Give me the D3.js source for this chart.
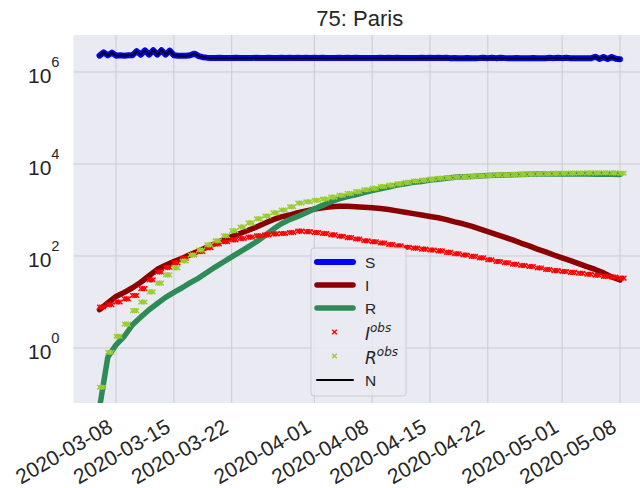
<!DOCTYPE html>
<html>
<head>
<meta charset="utf-8">
<script src="https://cdn.jsdelivr.net/npm/d3@7"></script>
<style>
  body { margin: 0; background: #fff; }
  svg { display: block; font-family: "Liberation Sans", Arial, sans-serif; }
</style>
</head>
<body>
<svg id="chart"></svg>
<script>
// first day of the simulation / observations
const startDate = "2020-03-06";
const tickDates = ["2020-03-08", "2020-03-15", "2020-03-22", "2020-04-01", "2020-04-08",
                   "2020-04-15", "2020-04-22", "2020-05-01", "2020-05-08"];
const yTickExps = [0, 2, 4, 6];

// S and N, sampled every half day (millions)
const sMillions = [2.26, 2.67, 2.30, 2.63, 2.26, 2.32, 2.26, 2.32, 2.32, 2.83,
  2.38, 2.95, 2.38, 2.98, 2.38, 2.98, 2.38, 2.92, 2.32, 2.26,
  2.26, 2.26, 2.32, 2.50, 2.21, 2.10, 2.05, 2.02,
  2.02, 2.03, 2.02, 2.01, 2.02, 2.03, 2.02, 2.02, 2.01, 2.02, 2.03, 2.02, 2.02, 2.03, 2.01, 2.02, 2.04, 2.02, 2.03, 2.01,
  2.04, 2.02, 2.05, 2.02, 2.04, 2.01, 2.03, 2.02, 2.02, 2.01, 2.04, 2.02, 2.05, 2.02, 2.03, 2.01, 2.02, 2.02, 2.01, 2.02,
  2.04, 2.02, 2.05, 2.02, 2.03, 2.01, 2.02, 2.02, 2.01, 2.02, 2.04, 2.01, 2.05, 2.02, 2.04, 2.01, 2.03, 2.00, 2.01, 2.00,
  2.00, 2.01, 2.00, 2.00, 2.01, 2.03, 2.00, 2.04, 2.00, 2.03, 2.01, 2.00, 2.00, 2.01, 2.00, 2.00, 2.00, 2.01, 2.00, 2.00,
  2.00, 2.03, 2.00, 2.04, 2.00, 2.03, 2.00, 2.00, 2.00, 2.00, 2.00, 1.98,
  2.15, 1.92, 2.12, 1.92, 2.12, 1.93, 1.90];
const nMillions = [2.26, 2.67, 2.30, 2.63, 2.26, 2.32, 2.26, 2.32, 2.32, 2.83,
  2.38, 2.95, 2.38, 2.98, 2.38, 2.98, 2.38, 2.92, 2.32, 2.26,
  2.26, 2.26, 2.32, 2.50, 2.21, 2.10, 2.05, 2.02,
  2.02, 2.03, 2.02, 2.01, 2.02, 2.03, 2.02, 2.02, 2.01, 2.02, 2.03, 2.02, 2.02, 2.03, 2.01, 2.02, 2.04, 2.02, 2.03, 2.01,
  2.04, 2.02, 2.05, 2.02, 2.04, 2.01, 2.03, 2.02, 2.02, 2.01, 2.04, 2.02, 2.05, 2.02, 2.03, 2.01, 2.02, 2.02, 2.01, 2.02,
  2.04, 2.02, 2.05, 2.02, 2.03, 2.01, 2.02, 2.02, 2.01, 2.02, 2.04, 2.01, 2.05, 2.02, 2.04, 2.01, 2.03, 2.00, 2.01, 2.00,
  2.00, 2.01, 2.00, 2.00, 2.01, 2.03, 2.00, 2.04, 2.00, 2.03, 2.01, 2.00, 2.00, 2.01, 2.00, 2.00, 2.00, 2.01, 2.00, 2.00,
  2.00, 2.03, 2.00, 2.04, 2.00, 2.03, 2.00, 2.00, 2.00, 2.00, 2.00, 1.98,
  2.15, 1.92, 2.12, 1.92, 2.12, 1.93, 1.90];

// daily values
const iModel = [6.8, 9.5, 13.2, 16.2, 20.4, 26.9, 37.2, 51.3, 63.1, 75.9,
  89.1, 107, 129, 155, 186, 224, 263, 309, 363, 427,
  513, 617, 708, 776, 871, 955, 1047, 1122, 1175, 1202,
  1202, 1175, 1148, 1122, 1072, 1023, 955, 891, 832, 776,
  724, 676, 617, 550, 501, 447, 389, 339, 295, 257,
  224, 191, 166, 141, 123, 105, 91, 79, 68, 59,
  51, 43, 35, 30];
const rModel = [0.05, 0.63, 1.17, 1.8, 3.2, 4.7, 6.8, 9.3, 12.6, 16.2,
  20.4, 26.3, 33.1, 43.7, 57.5, 74.1, 95.5, 123, 158, 204,
  275, 380, 501, 617, 724, 871, 1047, 1259, 1514, 1738,
  1950, 2138, 2399, 2630, 2884, 3162, 3467, 3715, 3981, 4169,
  4467, 4677, 4898, 5129, 5248, 5370, 5495, 5623, 5690, 5754,
  5820, 5888, 5957, 6026, 6030, 6030, 6030, 6020, 6030, 6030,
  6010, 6000, 5980, 5900];
const iObs = [7.8, 8.7, 10.0, 11.7, 13.8, 19.5, 30.2, 44.7, 56.2, 70.8,
  89.1, 107, 126, 151, 182, 204, 224, 240, 257, 275,
  288, 302, 309, 324, 347, 339, 324, 309, 288, 269,
  251, 234, 214, 204, 191, 178, 166, 155, 148, 141,
  135, 129, 120, 112, 105, 98, 91, 83, 76, 71,
  66, 62, 59, 55, 51, 48, 46, 44, 42, 40,
  38, 36, 35, 33];
const rObs = [0.14, 0.81, 1.8, 3.3, 6.5, 10, 16.6, 25.7, 38.9, 55,
  77.6, 105, 135, 174, 214, 275, 355, 427, 525, 646,
  741, 871, 1000, 1175, 1413, 1514, 1622, 1738, 1905, 2089,
  2291, 2512, 2754, 2951, 3236, 3467, 3715, 3981, 4266, 4467,
  4677, 4898, 5012, 5129, 5248, 5370, 5495, 5623, 5754, 5820,
  5888, 5957, 6026, 6095, 6166, 6237, 6310, 6340, 6380, 6400,
  6420, 6440, 6400, 6300];

class SirChart {

  constructor(_config) {
    this.config = {
      title: _config.title,
      parentElement: _config.parentElement,
      containerWidth: 640,
      containerHeight: 488,
      margin: { top: 35, bottom: 85, left: 73.5, right: -6 }
    }
    this.initVis();
  }

  initVis() {
    let vis = this;
    let m = vis.config.margin;
    vis.width = vis.config.containerWidth - m.left - m.right;
    vis.height = vis.config.containerHeight - m.top - m.bottom;

    vis.svg = d3.select(vis.config.parentElement)
      .attr('width', vis.config.containerWidth)
      .attr('height', vis.config.containerHeight);

    let t0 = d3.utcParse("%Y-%m-%d")(startDate);
    let daily = d3.range(iModel.length).map(i => d3.utcDay.offset(t0, i));
    let halfDaily = d3.range(sMillions.length).map(i => d3.utcHour.offset(t0, 12 * i));
    let padMs = 0.05 * (daily[daily.length - 1] - daily[0]);

    vis.x = d3.scaleUtc()
      .domain([new Date(+daily[0] - padMs), new Date(+daily[daily.length - 1] + padMs)])
      .range([0, vis.width]);
    vis.y = d3.scaleLog()
      .domain([Math.pow(10, -1.196), Math.pow(10, 6.804)])
      .range([vis.height, 0]);

    let g = vis.svg.append('g')
      .attr('transform', `translate(${m.left},${m.top})`);

    g.append('rect')
      .attr('width', vis.width)
      .attr('height', vis.height)
      .attr('fill', '#EAEAF2');

    vis.svg.append('defs').append('clipPath').attr('id', 'plotclip')
      .append('rect').attr('width', vis.width).attr('height', vis.height);

    let ticks = tickDates.map(d => d3.utcParse("%Y-%m-%d")(d));

    // grid
    g.selectAll('.vgrid')
      .data(ticks)
      .join('line')
        .attr('x1', d => vis.x(d)).attr('x2', d => vis.x(d))
        .attr('y1', 0).attr('y2', vis.height)
        .attr('stroke', '#cacad2').attr('stroke-width', 1);
    g.selectAll('.hgrid')
      .data(yTickExps)
      .join('line')
        .attr('x1', 0).attr('x2', vis.width)
        .attr('y1', d => vis.y(Math.pow(10, d))).attr('y2', d => vis.y(Math.pow(10, d)))
        .attr('stroke', '#cacad2').attr('stroke-width', 1);

    // x tick labels, rotated
    g.selectAll('.xlab')
      .data(ticks)
      .join('text')
        .attr('transform', d => `translate(${vis.x(d) - 2},${vis.height + 28}) rotate(-30)`)
        .attr('text-anchor', 'end')
        .attr('font-size', 21)
        .attr('fill', '#262626')
        .text(d => d3.utcFormat("%Y-%m-%d")(d));

    // y tick labels 10^n
    let ylab = g.selectAll('.ylab')
      .data(yTickExps)
      .join('text')
        .attr('x', -14)
        .attr('y', d => vis.y(Math.pow(10, d)) + 11)
        .attr('text-anchor', 'end')
        .attr('font-size', 21)
        .attr('fill', '#262626');
    ylab.append('tspan').text('10');
    ylab.append('tspan').attr('dy', -16).attr('font-size', 14.7).text(d => d);

    let plot = g.append('g').attr('clip-path', 'url(#plotclip)');
    let line = d3.line()
      .x(d => vis.x(d[0]))
      .y(d => vis.y(d[1]));

    let series = [
      { label: 'S', sup: '', kind: 'line', color: 'blue', width: 6, dates: halfDaily, values: sMillions.map(v => v * 1e6) },
      { label: 'I', sup: '', kind: 'line', color: '#8B0000', width: 5.5, dates: daily, values: iModel },
      { label: 'R', sup: '', kind: 'line', color: '#2E8B57', width: 5.5, dates: daily, values: rModel },
      { label: 'I', sup: 'obs', kind: 'mark', color: 'red', dates: daily, values: iObs },
      { label: 'R', sup: 'obs', kind: 'mark', color: '#9ACD32', dates: daily, values: rObs },
      { label: 'N', sup: '', kind: 'line', color: 'black', width: 2, dates: halfDaily, values: nMillions.map(v => v * 1e6) }
    ];

    const xPath = 'M-2.3,-2.3L2.3,2.3M-2.3,2.3L2.3,-2.3';
    // observations repeat over the sub-daily model steps
    const subSteps = [0, 6, 12];

    series.forEach(s => {
      let pts = s.dates.map((d, i) => [d, s.values[i]]);
      if (s.kind === 'line') {
        plot.append('path')
          .attr('d', line(pts))
          .attr('fill', 'none')
          .attr('stroke', s.color)
          .attr('stroke-width', s.width)
          .attr('stroke-linecap', 'round')
          .attr('stroke-linejoin', 'round');
      } else {
        let obsPts = [];
        pts.forEach(p => subSteps.forEach(h => obsPts.push([d3.utcHour.offset(p[0], h), p[1]])));
        plot.append('g').selectAll('path')
          .data(obsPts)
          .join('path')
            .attr('transform', p => `translate(${vis.x(p[0])},${vis.y(p[1])})`)
            .attr('d', xPath)
            .attr('stroke', s.color)
            .attr('stroke-width', 1.4)
            .attr('fill', 'none');
      }
    });

    // legend
    let lx = 311 - m.left, ly = 248 - m.top;
    let leg = g.append('g').attr('transform', `translate(${lx},${ly})`);
    leg.append('rect')
      .attr('width', 95).attr('height', 148)
      .attr('rx', 3)
      .attr('fill', '#EAEAF2').attr('fill-opacity', 0.8)
      .attr('stroke', '#cccccc').attr('stroke-width', 1);

    const rowY = [14, 37, 60, 84, 108, 132];
    series.forEach((s, i) => {
      let ry = rowY[i];
      if (s.kind === 'line') {
        leg.append('line')
          .attr('x1', 6).attr('x2', 42)
          .attr('y1', ry).attr('y2', ry)
          .attr('stroke', s.color)
          .attr('stroke-width', s.width)
          .attr('stroke-linecap', 'round');
      } else {
        leg.append('path')
          .attr('transform', `translate(23.5,${ry})`)
          .attr('d', xPath)
          .attr('stroke', s.color).attr('stroke-width', 1.4).attr('fill', 'none');
      }
      if (s.sup) {
        let t = leg.append('text')
          .attr('x', 54).attr('y', ry + 7.5)
          .attr('font-family', '"DejaVu Sans", sans-serif')
          .attr('font-style', 'italic')
          .attr('font-size', 17)
          .attr('fill', '#262626');
        t.append('tspan').text(s.label);
        t.append('tspan').attr('dy', -8).attr('font-size', 12).text(s.sup);
      } else {
        leg.append('text')
          .attr('x', 54).attr('y', ry + 5.5)
          .attr('font-size', 15.5)
          .attr('fill', '#262626')
          .text(s.label);
      }
    });

    // title
    vis.svg.append('text')
      .attr('x', m.left + vis.width / 2)
      .attr('y', 26)
      .attr('text-anchor', 'middle')
      .attr('font-size', 22)
      .attr('fill', '#262626')
      .text(vis.config.title);
  }
}

new SirChart({ parentElement: '#chart', title: '75: Paris' });
</script>
</body>
</html>
